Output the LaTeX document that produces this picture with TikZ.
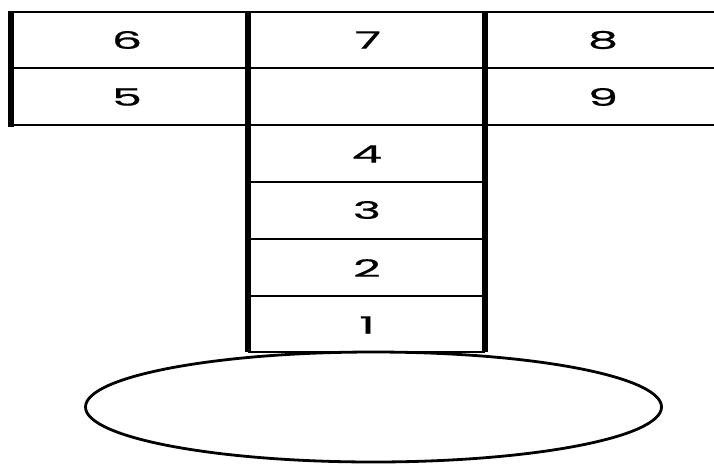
\documentclass[tikz,border=0pt]{standalone}
\usepackage{fontspec}
\setmainfont{Poppins}
\newfontfamily\digitfont{Poppins}[FakeBold=0.6]
\newcommand\stretchnum[1]{\scalebox{2}[1]{#1}}
\begin{document}
\begin{tikzpicture}[x=1pt,y=-1pt,
  thinline/.style={line width=1.8pt},
  thickline/.style={line width=5.5pt},
  num/.style={font=\digitfont\fontsize{24}{24}\selectfont, inner sep=0pt}]
\useasboundingbox (0,0) rectangle (714,464);
% coordinates
\coordinate (TL) at (8,12);
\coordinate (TR) at (714,12);
\coordinate (ML) at (8,68);
\coordinate (MR) at (714,68);
\coordinate (BL) at (8,125);
\coordinate (BR) at (714,125);
\coordinate (L1) at (248,182);
\coordinate (R1) at (485,182);
\coordinate (L2) at (248,239);
\coordinate (R2) at (485,239);
\coordinate (L3) at (248,296);
\coordinate (R3) at (485,296);
\coordinate (L4) at (248,352);
\coordinate (R4) at (485,352);
% ellipse
\draw[line width=2.8pt] (373.5,407) ellipse [x radius=288, y radius=55];
% horizontal lines
\draw[thinline] (TL) -- (TR);
\draw[thinline] (ML) -- (MR);
\draw[thinline] (BL) -- (BR);
\draw[thinline] (L1) -- (R1);
\draw[thinline] (L2) -- (R2);
\draw[thinline] (L3) -- (R3);
\draw[thinline] (L4) -- (R4);
% vertical lines
\draw[thickline] (11,11) -- (11,127);
\draw[thickline] (248,11) -- (L4);
\draw[thickline] (485,11) -- (R4);
% labels
\node[num] (n6) at (127,40) {\stretchnum{6}};
\node[num] (n5) at (127,97) {\stretchnum{5}};
\node[num] (n7) at (368,40) {\stretchnum{7}};
\node[num] (n8) at (603,40) {\stretchnum{8}};
\node[num] (n9) at (603,97) {\stretchnum{9}};
\node[num] (n4) at (367,154) {\stretchnum{4}};
\node[num] (n3) at (367,210) {\stretchnum{3}};
\node[num] (n2) at (367,268) {\stretchnum{2}};
\node[num] (n1) at (367,325) {\stretchnum{1}};
\end{tikzpicture}
\end{document}
